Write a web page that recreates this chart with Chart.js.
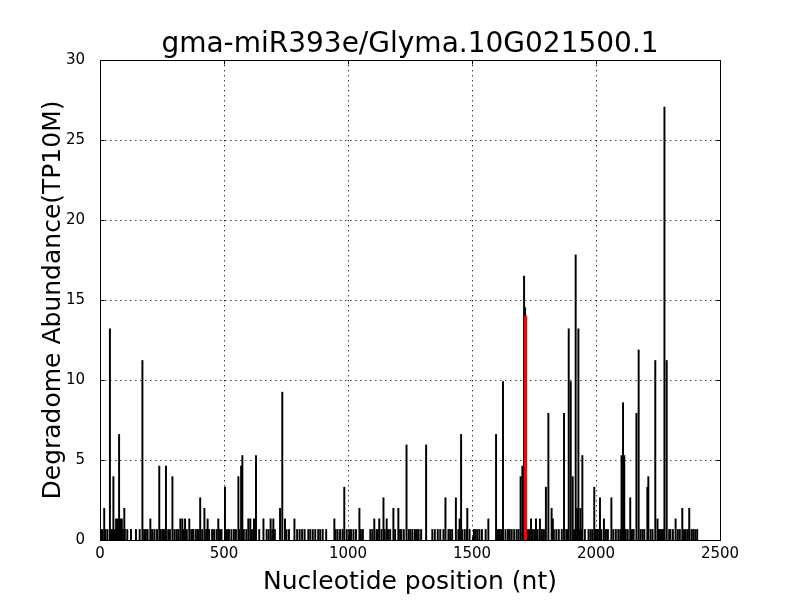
<!DOCTYPE html>
<html>
<head>
<meta charset="utf-8">
<script src="https://cdn.jsdelivr.net/npm/chart.js@4.4.0/dist/chart.umd.min.js"></script>
<style>
html,body{margin:0;padding:0;background:#fff;}
canvas{display:block;}
</style>
</head>
<body>
<canvas id="c" width="800" height="600"></canvas>
<script>
const chartTitle = "gma-miR393e/Glyma.10G021500.1";
const xTitle = "Nucleotide position (nt)";
const yTitle = "Degradome Abundance(TP10M)";
const xTicks = [0, 500, 1000, 1500, 2000, 2500];
const yTicks = [0, 5, 10, 15, 20, 25, 30];

const lowPositions = [
  5, 10, 22, 30, 45, 50, 60, 70, 84, 92,
  100, 110, 125, 145, 160, 178, 185, 192, 205, 212,
  220, 230, 245, 252, 258, 275, 282, 300, 308, 315,
  325, 338, 350, 368, 375, 385, 392, 398, 412, 428,
  440, 452, 460, 470, 484, 490, 512, 520, 530, 540,
  548, 562, 580, 590, 612, 618, 642, 672, 680, 695,
  705, 752, 762, 795, 805, 815, 825, 840, 848, 858,
  868, 880, 888, 898, 912, 950, 958, 968, 978, 995,
  1005, 1012, 1022, 1032, 1052, 1060, 1090, 1098, 1115, 1120,
  1135, 1148, 1162, 1170, 1190, 1210, 1215, 1225, 1245, 1252,
  1260, 1270, 1278, 1285, 1295, 1340, 1350, 1362, 1372, 1385,
  1405, 1412, 1420, 1445, 1460, 1470, 1478, 1490, 1508, 1515,
  1522, 1530, 1540, 1555, 1605, 1612, 1618, 1635, 1645, 1652,
  1660, 1670, 1680, 1688, 1722, 1730, 1745, 1752, 1765, 1782,
  1790, 1830, 1840, 1850, 1862, 1880, 1885, 1912, 1925, 1935,
  1940, 1955, 1970, 1978, 1985, 2000, 2008, 2022, 2040, 2048,
  2070, 2080, 2090, 2098, 2120, 2128, 2145, 2152, 2180, 2188,
  2195, 2220, 2228, 2250, 2258, 2265, 2270, 2295, 2300, 2310,
  2330, 2338, 2355, 2362, 2370, 2385, 2392, 2400, 2408
];
const lowValues = [
  0.66, 0.66, 0.66, 0.66, 0.66, 0.66, 0.66, 0.66, 0.66, 0.66,
  0.66, 0.66, 0.66, 0.66, 0.66, 0.66, 0.66, 0.66, 0.66, 0.66,
  0.66, 0.66, 0.66, 0.66, 0.66, 0.66, 0.66, 0.66, 0.66, 0.66,
  0.66, 0.66, 0.66, 0.66, 0.66, 0.66, 0.66, 0.66, 0.66, 0.66,
  0.66, 0.66, 0.66, 0.66, 0.66, 0.66, 0.66, 0.66, 0.66, 0.66,
  0.66, 0.66, 0.66, 0.66, 0.66, 0.66, 0.66, 0.66, 0.66, 0.66,
  0.66, 0.66, 0.66, 0.66, 0.66, 0.66, 0.66, 0.66, 0.66, 0.66,
  0.66, 0.66, 0.66, 0.66, 0.66, 0.66, 0.66, 0.66, 0.66, 0.66,
  0.66, 0.66, 0.66, 0.66, 0.66, 0.66, 0.66, 0.66, 0.66, 0.66,
  0.66, 0.66, 0.66, 0.66, 0.66, 0.66, 0.66, 0.66, 0.66, 0.66,
  0.66, 0.66, 0.66, 0.66, 0.66, 0.66, 0.66, 0.66, 0.66, 0.66,
  0.66, 0.66, 0.66, 0.66, 0.66, 0.66, 0.66, 0.66, 0.66, 0.66,
  0.66, 0.66, 0.66, 0.66, 0.66, 0.66, 0.66, 0.66, 0.66, 0.66,
  0.66, 0.66, 0.66, 0.66, 0.66, 0.66, 0.66, 0.66, 0.66, 0.66,
  0.66, 0.66, 0.66, 0.66, 0.66, 0.66, 0.66, 0.66, 0.66, 0.66,
  0.66, 0.66, 0.66, 0.66, 0.66, 0.66, 0.66, 0.66, 0.66, 0.66,
  0.66, 0.66, 0.66, 0.66, 0.66, 0.66, 0.66, 0.66, 0.66, 0.66,
  0.66, 0.66, 0.66, 0.66, 0.66, 0.66, 0.66, 0.66, 0.66, 0.66,
  0.66, 0.66, 0.66, 0.66, 0.66, 0.66, 0.66, 0.66, 0.66
];

const peakPositions = [
  17, 40, 54, 65, 72, 77, 82, 88, 98, 171,
  203, 239, 266, 292, 324, 332, 343, 360, 404, 421,
  434, 477, 504, 558, 569, 574, 598, 606, 621, 629,
  659, 688, 699, 726, 735, 746, 784, 945, 985, 1046,
  1106, 1126, 1143, 1156, 1183, 1203, 1236, 1315, 1393, 1435,
  1450, 1456, 1481, 1566, 1597, 1625, 1696, 1703, 1710, 1714,
  1738, 1758, 1774, 1798, 1808, 1821, 1826, 1871, 1890, 1898,
  1906, 1918, 1924, 1929, 1937, 1945, 1993, 2016, 2032, 2062,
  2103, 2109, 2114, 2138, 2163, 2172, 2207, 2211, 2239, 2248,
  2276, 2285, 2321, 2348, 2376
];
const peakValues = [
  1.98, 13.2, 3.96, 1.32, 1.32, 6.6, 1.32, 1.32, 1.98, 11.22,
  1.32, 4.62, 4.62, 3.96, 1.32, 1.32, 1.32, 1.32, 2.64, 1.98,
  1.32, 1.32, 3.3, 3.96, 4.62, 5.28, 1.32, 1.32, 1.32, 5.28,
  1.32, 1.32, 1.32, 1.98, 9.24, 1.32, 1.32, 1.32, 3.3, 1.98,
  1.32, 1.32, 2.64, 1.32, 1.98, 1.98, 5.94, 5.94, 2.64, 2.64,
  1.32, 6.6, 1.98, 1.32, 6.6, 9.9, 3.96, 4.62, 16.5, 14.52,
  1.32, 1.32, 1.32, 3.3, 7.92, 1.98, 1.32, 7.92, 13.2, 9.9,
  3.96, 17.82, 1.98, 13.2, 1.98, 5.28, 3.3, 2.64, 1.32, 2.64,
  5.28, 8.58, 5.28, 2.64, 7.92, 11.88, 3.3, 3.96, 11.22, 1.32,
  27.06, 11.22, 1.32, 1.98, 1.98
];

const targetPositions = [1716];
const targetValues = [14.0];

const blackData = lowPositions.map((p, i) => ({x: p, y: lowValues[i]}))
  .concat(peakPositions.map((p, i) => ({x: p, y: peakValues[i]})));
const redData = targetPositions.map((p, i) => ({x: p, y: targetValues[i]}));

Chart.defaults.font.family = "'DejaVu Sans', sans-serif";
Chart.defaults.color = '#000';

const framePlugin = {
  id: 'frame',
  beforeDatasetsDraw(chart) {
    const {ctx, chartArea: a, scales: {x, y}} = chart;
    ctx.save();
    ctx.strokeStyle = 'rgba(0,0,0,0.75)';
    ctx.lineWidth = 1;
    ctx.setLineDash([1.5, 3.5]);
    xTicks.forEach(v => {
      const px = Math.round(x.getPixelForValue(v)) + 0.5;
      ctx.beginPath(); ctx.moveTo(px, a.top); ctx.lineTo(px, a.bottom); ctx.stroke();
    });
    yTicks.forEach(v => {
      const py = Math.round(y.getPixelForValue(v)) + 0.5;
      ctx.beginPath(); ctx.moveTo(a.left, py); ctx.lineTo(a.right, py); ctx.stroke();
    });
    ctx.restore();
  },
  afterDatasetsDraw(chart) {
    const {ctx, chartArea: a, scales: {x, y}} = chart;
    ctx.save();
    ctx.strokeStyle = '#000';
    ctx.lineWidth = 1;
    ctx.setLineDash([]);
    const L = Math.round(a.left) + 0.5, R = Math.round(a.right) + 0.5;
    const T = Math.round(a.top) + 0.5, B = Math.round(a.bottom) + 0.5;
    ctx.strokeRect(L, T, R - L, B - T);
    const tl = 4;
    xTicks.forEach(v => {
      const px = Math.round(x.getPixelForValue(v)) + 0.5;
      ctx.beginPath();
      ctx.moveTo(px, B); ctx.lineTo(px, B - tl);
      ctx.moveTo(px, T); ctx.lineTo(px, T + tl);
      ctx.stroke();
    });
    yTicks.forEach(v => {
      const py = Math.round(y.getPixelForValue(v)) + 0.5;
      ctx.beginPath();
      ctx.moveTo(L, py); ctx.lineTo(L + tl, py);
      ctx.moveTo(R, py); ctx.lineTo(R - tl, py);
      ctx.stroke();
    });
    // title
    ctx.fillStyle = '#000';
    ctx.font = "28px 'DejaVu Sans', sans-serif";
    ctx.textAlign = 'center';
    ctx.textBaseline = 'alphabetic';
    ctx.fillText(chartTitle, (a.left + a.right) / 2, 52);
    ctx.restore();
  }
};

new Chart(document.getElementById('c'), {
  type: 'bar',
  data: {
    datasets: [
      {label: 'target', data: redData, backgroundColor: '#ff0000', barThickness: 2.5, order: 0, grouped: false},
      {label: 'reads', data: blackData, backgroundColor: '#000000', barThickness: 1.3, order: 1, grouped: false}
    ]
  },
  options: {
    responsive: false,
    animation: false,
    events: [],
    layout: {padding: {left: 0, right: 80, top: 60, bottom: 0}},
    plugins: {
      legend: {display: false},
      tooltip: {enabled: false},
      title: {display: false}
    },
    scales: {
      x: {
        type: 'linear',
        min: 0, max: 2500,
        offset: false,
        grid: {display: false},
        border: {display: false},
        afterBuildTicks: s => { s.ticks = xTicks.map(v => ({value: v})); },
        ticks: {font: {size: 15}, padding: -3, maxRotation: 0, color: '#000', callback: v => String(v)},
        title: {display: true, text: xTitle, font: {size: 25}, color: '#000', padding: {top: 0, bottom: 3}},
        afterFit: s => { s.height = 60; }
      },
      y: {
        min: 0, max: 30,
        grid: {display: false},
        border: {display: false},
        afterBuildTicks: s => { s.ticks = yTicks.map(v => ({value: v})); },
        ticks: {font: {size: 15}, padding: 7, color: '#000', callback: v => String(v)},
        title: {display: true, text: yTitle, font: {size: 25}, color: '#000', padding: {top: 38, bottom: 0}},
        afterFit: s => { s.width = 100; }
      }
    }
  },
  plugins: [framePlugin]
});
</script>
</body>
</html>
